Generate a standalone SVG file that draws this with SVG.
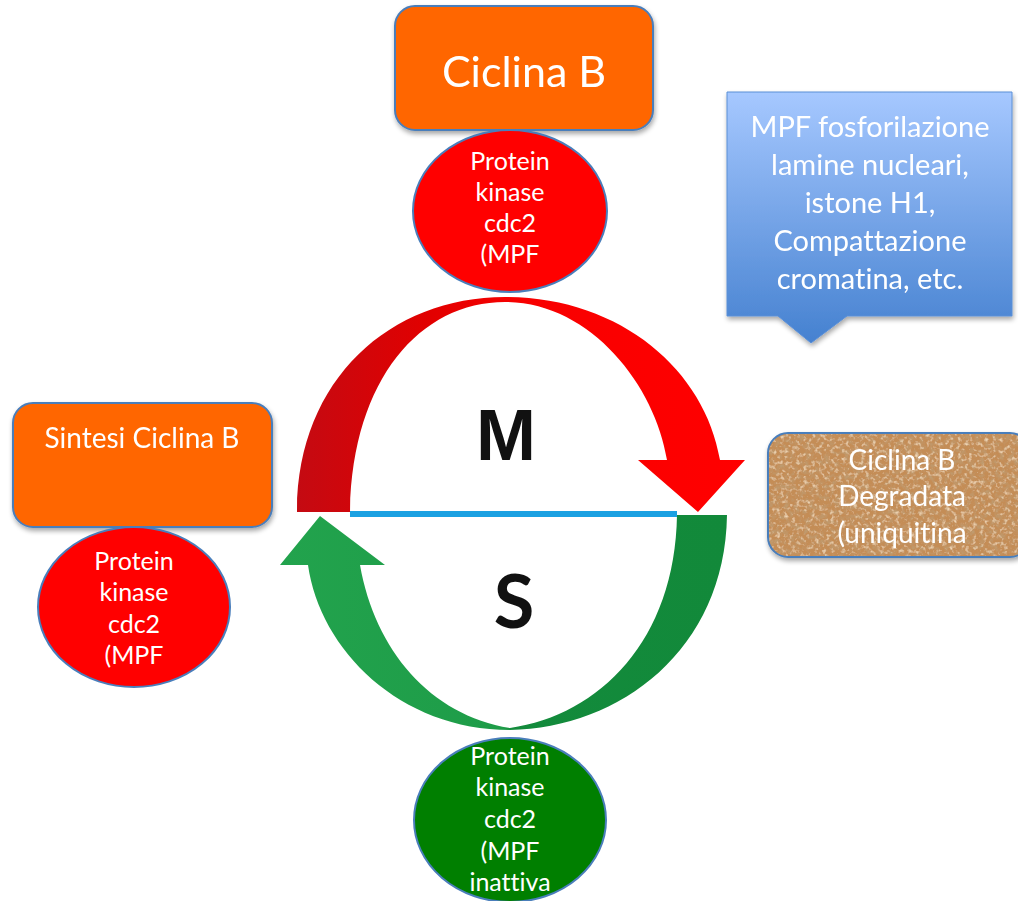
<svg xmlns="http://www.w3.org/2000/svg" width="1018" height="901" viewBox="0 0 1018 901">
  <defs>
    <style>
      .box { fill: #FF6600; stroke: #4A7EBB; stroke-width: 2; }
      .red-oval { fill: #FF0000; stroke: #4A7EBB; stroke-width: 2; }
      .green-oval { fill: #007F00; stroke: #4A7EBB; stroke-width: 2; }
      .label { font-family: Lato, "Open Sans", "Liberation Sans", sans-serif; fill: #FFFFFF; text-anchor: middle; font-variant-ligatures: none; }
      .phase { fill: #111111; text-anchor: middle; font-weight: bold; }
    </style>
    <filter id="shadow" x="-10%" y="-10%" width="130%" height="130%">
      <feGaussianBlur in="SourceAlpha" stdDeviation="2.5"/>
      <feOffset dx="1" dy="3" result="b"/>
      <feComponentTransfer><feFuncA type="linear" slope="0.35"/></feComponentTransfer>
      <feMerge><feMergeNode/><feMergeNode in="SourceGraphic"/></feMerge>
    </filter>
    <filter id="cork" x="0" y="0" width="100%" height="100%">
      <feTurbulence type="fractalNoise" baseFrequency="0.2" numOctaves="3" seed="7" result="n"/>
      <feColorMatrix in="n" type="matrix" values="0 0 0 0 0.52  0 0 0 0 0.33  0 0 0 0 0.16  -2.4 0 0 0 1.35" result="dark"/>
      <feTurbulence type="fractalNoise" baseFrequency="0.26" numOctaves="2" seed="21" result="n2"/>
      <feColorMatrix in="n2" type="matrix" values="0 0 0 0 0.92  0 0 0 0 0.74  0 0 0 0 0.52  2.4 0 0 0 -1.25" result="light"/>
      <feFlood flood-color="#C48D57" result="base"/>
      <feComposite in="dark" in2="base" operator="over" result="tex1"/>
      <feComposite in="light" in2="tex1" operator="over" result="tex"/>
      <feComposite in="tex" in2="SourceGraphic" operator="in"/>
    </filter>
    <linearGradient id="calloutFill" x1="0" y1="0" x2="0" y2="1">
      <stop offset="0" stop-color="#A6C8FF"/>
      <stop offset="1" stop-color="#4581D0"/>
    </linearGradient>
    <linearGradient id="redArc" gradientUnits="userSpaceOnUse" x1="297" y1="0" x2="745" y2="0">
      <stop offset="0" stop-color="#C40A12"/>
      <stop offset="0.3" stop-color="#E20000"/>
      <stop offset="0.5" stop-color="#F80000"/>
      <stop offset="1" stop-color="#FF0000"/>
    </linearGradient>
    <linearGradient id="greenArc" gradientUnits="userSpaceOnUse" x1="280" y1="0" x2="727" y2="0">
      <stop offset="0" stop-color="#22A34D"/>
      <stop offset="0.5" stop-color="#1E9C48"/>
      <stop offset="0.52" stop-color="#138B3C"/>
      <stop offset="1" stop-color="#12893A"/>
    </linearGradient>
  </defs>

  <rect width="1018" height="901" fill="#FFFFFF"/>

  <!-- cell cycle arrows -->
  <g id="connectors">
    <path id="arc-m" fill="url(#redArc)" d="M 297 512 C 297 380 390 297 505 297 C 620 297 705 370 720 460 L 745 460 L 698 512 L 638 460 L 667 460 C 655 385 590 302 505 302 C 420 302 352 380 350 512 Z"/>
    <path id="arc-s" fill="url(#greenArc)" d="M 320 516 L 385 565 L 360 565 C 375 650 430 715 510 728 C 600 715 675 640 677 515 L 727 515 C 725 650 620 728 510 730 C 400 730 320 650 308 565 L 280 565 Z"/>
    <rect id="divider" x="350" y="511" width="327" height="6" fill="#1BA1E2"/>
  </g>

  <g id="phase-m">
    <text class="phase" x="506" y="460" font-family="'Liberation Sans', Arial, sans-serif" font-size="72">M</text>
  </g>
  <g id="phase-s">
    <text class="phase" x="514" y="628" font-family="Lato, 'Open Sans', sans-serif" font-size="74">S</text>
  </g>

  <!-- top: cyclin B with active kinase -->
  <g id="ciclina-b" filter="url(#shadow)">
    <rect class="box" x="395" y="6" width="258" height="124" rx="20"/>
    <text class="label" x="524" y="87" font-size="43">Ciclina B</text>
  </g>
  <g id="kinase-top">
    <ellipse class="red-oval" cx="510" cy="211" rx="97" ry="81"/>
    <text class="label" font-size="25"><tspan x="510" y="170">Protein</tspan><tspan x="510" y="201">kinase</tspan><tspan x="510" y="232">cdc2</tspan><tspan x="510" y="263">(MPF</tspan></text>
  </g>

  <!-- left: cyclin B synthesis -->
  <g id="sintesi" filter="url(#shadow)">
    <rect class="box" x="13" y="403" width="259" height="124" rx="20"/>
    <text class="label" x="142" y="448" font-size="28">Sintesi Ciclina B</text>
  </g>
  <g id="kinase-left">
    <ellipse class="red-oval" cx="134" cy="607" rx="96" ry="80"/>
    <text class="label" font-size="25"><tspan x="134" y="570">Protein</tspan><tspan x="134" y="601">kinase</tspan><tspan x="134" y="633">cdc2</tspan><tspan x="134" y="664">(MPF</tspan></text>
  </g>

  <!-- bottom: inactive kinase -->
  <g id="kinase-bottom">
    <ellipse class="green-oval" cx="510" cy="820" rx="96" ry="82"/>
    <text class="label" font-size="25"><tspan x="510" y="765">Protein</tspan><tspan x="510" y="796">kinase</tspan><tspan x="510" y="828">cdc2</tspan><tspan x="510" y="860">(MPF</tspan><tspan x="510" y="891">inattiva</tspan></text>
  </g>

  <!-- callout: MPF targets -->
  <g id="mpf-callout" filter="url(#shadow)">
    <path fill="url(#calloutFill)" stroke="#5A8FD6" stroke-width="1" d="M 727 92 L 1012 92 L 1012 316 L 847 316 L 811 343 L 778 316 L 727 316 Z"/>
    <text class="label" font-size="29"><tspan x="870" y="137">MPF fosforilazione</tspan><tspan x="870" y="175">lamine nucleari,</tspan><tspan x="870" y="213">istone H1,</tspan><tspan x="870" y="251">Compattazione</tspan><tspan x="870" y="289">cromatina, etc.</tspan></text>
  </g>

  <!-- right: degraded cyclin -->
  <g id="ciclina-degradata" filter="url(#shadow)">
    <rect x="768" y="433" width="262" height="124" rx="20" fill="#C48D57" filter="url(#cork)"/>
    <rect x="768" y="433" width="262" height="124" rx="20" fill="none" stroke="#4A7EBB" stroke-width="2"/>
    <text class="label" font-size="28"><tspan x="902" y="470">Ciclina B</tspan><tspan x="902" y="506">Degradata</tspan><tspan x="902" y="543">(uniquitina</tspan></text>
  </g>
</svg>
